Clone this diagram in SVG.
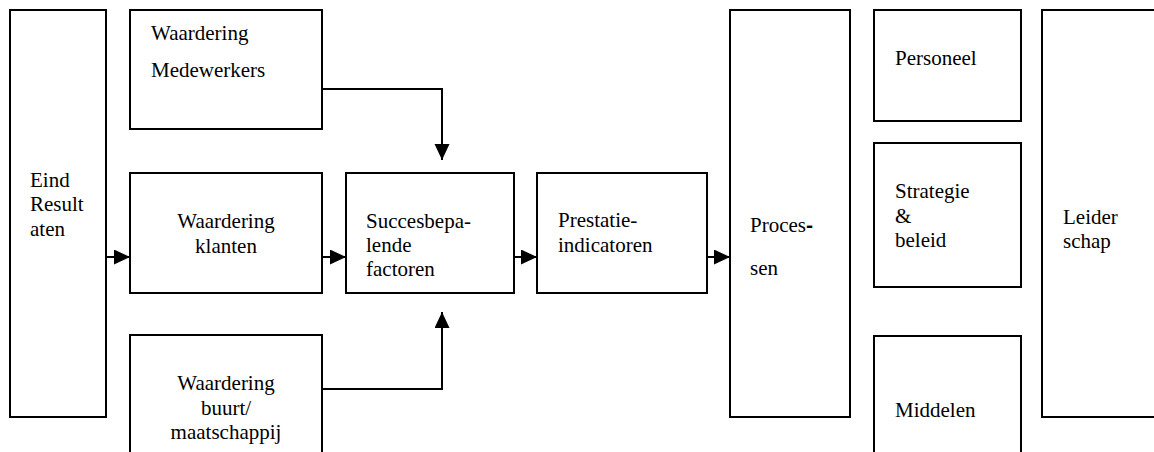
<svg xmlns="http://www.w3.org/2000/svg" width="1154" height="452" viewBox="0 0 1154 452">
<style>
.box{fill:#fff;stroke:#000;stroke-width:2}
text{font-family:"Liberation Serif",serif;font-size:21px;fill:#000}
.c{text-anchor:middle}
.con{fill:none;stroke:#000;stroke-width:2}
</style>
<defs>
<marker id="ah" markerUnits="userSpaceOnUse" markerWidth="16" markerHeight="16" refX="16" refY="7.5" orient="auto">
<path d="M0,0 L16,7.5 L0,15 z" fill="#000"/>
</marker>
</defs>
<rect width="1154" height="452" fill="#fff"/>
<g id="eind">
<rect class="box" x="10" y="10" width="96" height="407"/>
<text font-family="Liberation Serif" x="30" y="187">Eind</text>
<text font-family="Liberation Serif" x="30" y="211">Result</text>
<text font-family="Liberation Serif" x="30" y="236">aten</text>
</g>
<g id="medewerkers">
<rect class="box" x="130" y="10" width="192" height="119"/>
<text font-family="Liberation Serif" x="151" y="40">Waardering</text>
<text font-family="Liberation Serif" x="151" y="77">Medewerkers</text>
</g>
<g id="klanten">
<rect class="box" x="130" y="173" width="192" height="120"/>
<text font-family="Liberation Serif" class="c" x="226" y="228">Waardering</text>
<text font-family="Liberation Serif" class="c" x="226" y="253">klanten</text>
</g>
<g id="buurt">
<rect class="box" x="130" y="335" width="192" height="140"/>
<text font-family="Liberation Serif" class="c" x="226" y="390">Waardering</text>
<text font-family="Liberation Serif" class="c" x="226" y="415">buurt/</text>
<text font-family="Liberation Serif" class="c" x="226" y="439">maatschappij</text>
</g>
<g id="succes">
<rect class="box" x="346" y="173" width="168" height="120"/>
<text font-family="Liberation Serif" x="366" y="228">Succesbepa-</text>
<text font-family="Liberation Serif" x="366" y="252">lende</text>
<text font-family="Liberation Serif" x="366" y="276">factoren</text>
</g>
<g id="prestatie">
<rect class="box" x="537" y="173" width="170" height="120"/>
<text font-family="Liberation Serif" x="558" y="227">Prestatie-</text>
<text font-family="Liberation Serif" x="558" y="252">indicatoren</text>
</g>
<g id="processen">
<rect class="box" x="730" y="10" width="120" height="407"/>
<text font-family="Liberation Serif" x="750" y="232">Proces<tspan style="font-family:'Liberation Sans',sans-serif;font-weight:bold">-</tspan></text>
<text font-family="Liberation Serif" x="750" y="275">sen</text>
</g>
<g id="personeel">
<rect class="box" x="874" y="10" width="147" height="111"/>
<text font-family="Liberation Serif" x="895" y="65">Personeel</text>
</g>
<g id="strategie">
<rect class="box" x="874" y="143" width="147" height="144"/>
<text font-family="Liberation Serif" x="895" y="198">Strategie</text>
<text font-family="Liberation Serif" x="895" y="223">&amp;</text>
<text font-family="Liberation Serif" x="895" y="247">beleid</text>
</g>
<g id="middelen">
<rect class="box" x="874" y="336" width="147" height="140"/>
<text font-family="Liberation Serif" x="895" y="417">Middelen</text>
</g>
<g id="leiderschap">
<rect class="box" x="1042" y="10" width="130" height="407"/>
<text font-family="Liberation Serif" x="1063" y="224">Leider</text>
<text font-family="Liberation Serif" x="1063" y="248">schap</text>
</g>
<g id="connectors">
<path class="con" d="M106,257 H130" marker-end="url(#ah)"/>
<path class="con" d="M322,257 H346" marker-end="url(#ah)"/>
<path class="con" d="M514,257 H537" marker-end="url(#ah)"/>
<path class="con" d="M707,257 H730" marker-end="url(#ah)"/>
<path class="con" d="M322,89 H442 V160" marker-end="url(#ah)"/>
<path class="con" d="M322,389 H442 V312" marker-end="url(#ah)"/>
</g>
</svg>
